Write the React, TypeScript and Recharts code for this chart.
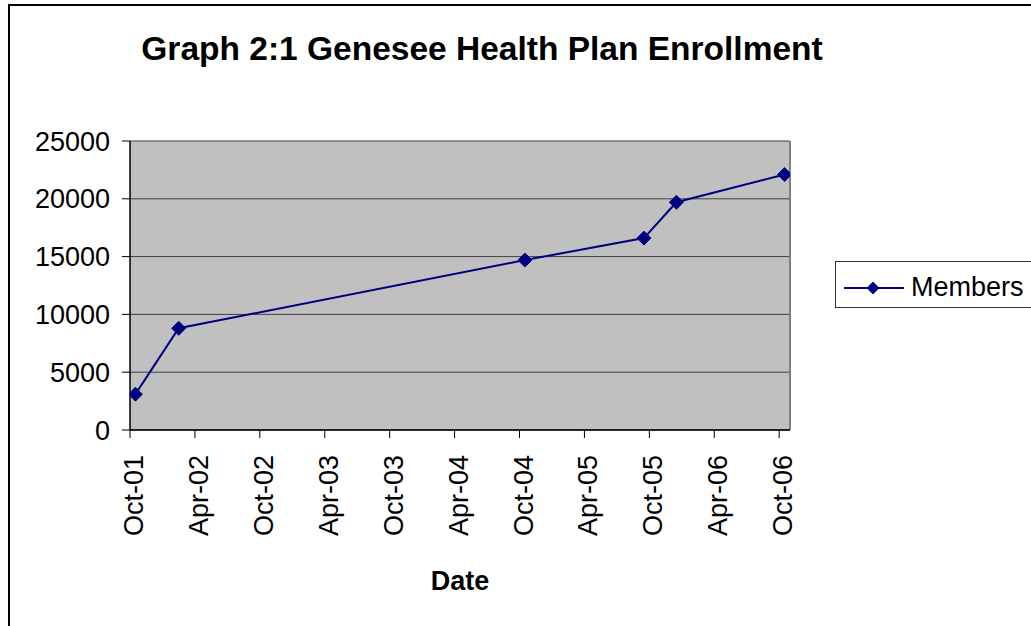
import React from "react";
import { LineChart, Line, XAxis, YAxis, CartesianGrid, Legend, ReferenceLine } from "recharts";

const dates = ["2001-10", "2002-02", "2004-10", "2005-09", "2005-12", "2006-10"];
const members = [3100, 8800, 14700, 16600, 19700, 22100];
const tickLabels = ["Oct-01", "Apr-02", "Oct-02", "Apr-03", "Oct-03", "Apr-04", "Oct-04", "Apr-05", "Oct-05", "Apr-06", "Oct-06"];
const yTicks = [0, 5000, 10000, 15000, 20000, 25000];
const seriesName = "Members";
const title = "Graph 2:1 Genesee Health Plan Enrollment";
const xTitle = "Date";

const START_YEAR = 2001;
const START_MONTH = 10;
const monthIndex = (d: string) => {
  const [y, m] = d.split("-").map(Number);
  return (y - START_YEAR) * 12 + (m - START_MONTH);
};
const data = dates.map((d, i) => ({ t: monthIndex(d) + 0.5, [seriesName]: members[i] }));
const xTicks = tickLabels.map((_, i) => i * 6);
const lastMonth = monthIndex("2006-10") + 1;

const FONT = "Arial, 'Liberation Sans', sans-serif";
const NAVY = "#000080";

const Diamond = (props: any) => {
  const { cx, cy } = props;
  if (cx == null || cy == null) return null;
  const r = 7;
  return (
    <polygon
      points={`${cx},${cy - r} ${cx + r},${cy} ${cx},${cy + r} ${cx - r},${cy}`}
      fill={NAVY}
      stroke={NAVY}
      strokeWidth={1}
    />
  );
};

const XTick = (props: any) => {
  const { x, y, payload } = props;
  const label = tickLabels[Math.round(payload.value / 6)];
  const bx = x + 13;
  return (
    <text
      x={bx}
      y={y}
      transform={`rotate(-90, ${bx}, ${y})`}
      textAnchor="end"
      fontSize={27}
      fontFamily={FONT}
      fill="#000"
    >
      {label}
    </text>
  );
};

const LegendBox = (props: any) => {
  const item = props.payload && props.payload[0];
  const name = item ? item.value : seriesName;
  return (
    <svg width={200} height={47} style={{ display: "block" }}>
      <rect x={0.5} y={0.5} width={220} height={46} fill="#fff" stroke="#333" strokeWidth={1} />
      <line x1={9} y1={27} x2={69} y2={27} stroke={NAVY} strokeWidth={2} />
      <polygon points={`38,${27 - 6.5} 44.5,27 38,${27 + 6.5} 31.5,27`} fill={NAVY} />
      <text x={76} y={35} fontSize={27} fontFamily={FONT} fill="#000">
        {name}
      </text>
    </svg>
  );
};

export default function App() {
  return (
    <div
      style={{
        position: "fixed",
        left: 0,
        top: 0,
        width: 1031,
        height: 626,
        overflow: "hidden",
        background: "#fff",
      }}
    >
      <div
        style={{
          position: "absolute",
          left: 8,
          top: 4,
          width: 1100,
          height: 700,
          border: "2px solid #000",
          boxSizing: "border-box",
        }}
      />
      <svg
        width={1031}
        height={100}
        style={{ position: "absolute", left: 0, top: 0, pointerEvents: "none" }}
      >
        <text x={482} y={60} textAnchor="middle" fontSize={33.5} fontWeight="bold" fontFamily={FONT} fill="#000">
          {title}
        </text>
      </svg>
      <div style={{ position: "absolute", left: 0, top: 0 }}>
        <LineChart
          width={1031}
          height={626}
          data={data}
          margin={{ top: 141, right: 241, left: 0, bottom: 0 }}
        >
          <CartesianGrid
            horizontal={true}
            vertical={false}
            fill="#c0c0c0"
            stroke="#404040"
            strokeWidth={1}
            horizontalValues={yTicks}
          />
          <ReferenceLine x={lastMonth} stroke="#808080" strokeWidth={2} />
          <XAxis
            dataKey="t"
            type="number"
            domain={[0, lastMonth]}
            ticks={xTicks}
            interval={0}
            height={196}
            tickSize={8}
            tickMargin={17}
            tick={<XTick />}
            axisLine={{ stroke: "#000", strokeWidth: 1.5 }}
            tickLine={{ stroke: "#000", strokeWidth: 1 }}
            allowDataOverflow={true}
            label={{
              value: xTitle,
              position: "insideBottom",
              offset: 36,
              fontSize: 27,
              fontWeight: "bold",
              fontFamily: FONT,
              fill: "#000",
            }}
          />
          <YAxis
            type="number"
            domain={[0, 25000]}
            ticks={yTicks}
            interval={0}
            width={130}
            tickSize={8}
            tickMargin={12}
            tick={{ fontSize: 27, fontFamily: FONT, fill: "#000" }}
            axisLine={{ stroke: "#000", strokeWidth: 1.5 }}
            tickLine={{ stroke: "#000", strokeWidth: 1 }}
          />
          <Legend
            layout="vertical"
            align="center"
            verticalAlign="middle"
            wrapperStyle={{ left: 835, top: 261, width: 200, height: 47 }}
            content={<LegendBox />}
          />
          <Line
            type="linear"
            dataKey={seriesName}
            name={seriesName}
            stroke={NAVY}
            strokeWidth={2}
            dot={<Diamond />}
            activeDot={false}
            isAnimationActive={false}
          />
        </LineChart>
      </div>
    </div>
  );
}
